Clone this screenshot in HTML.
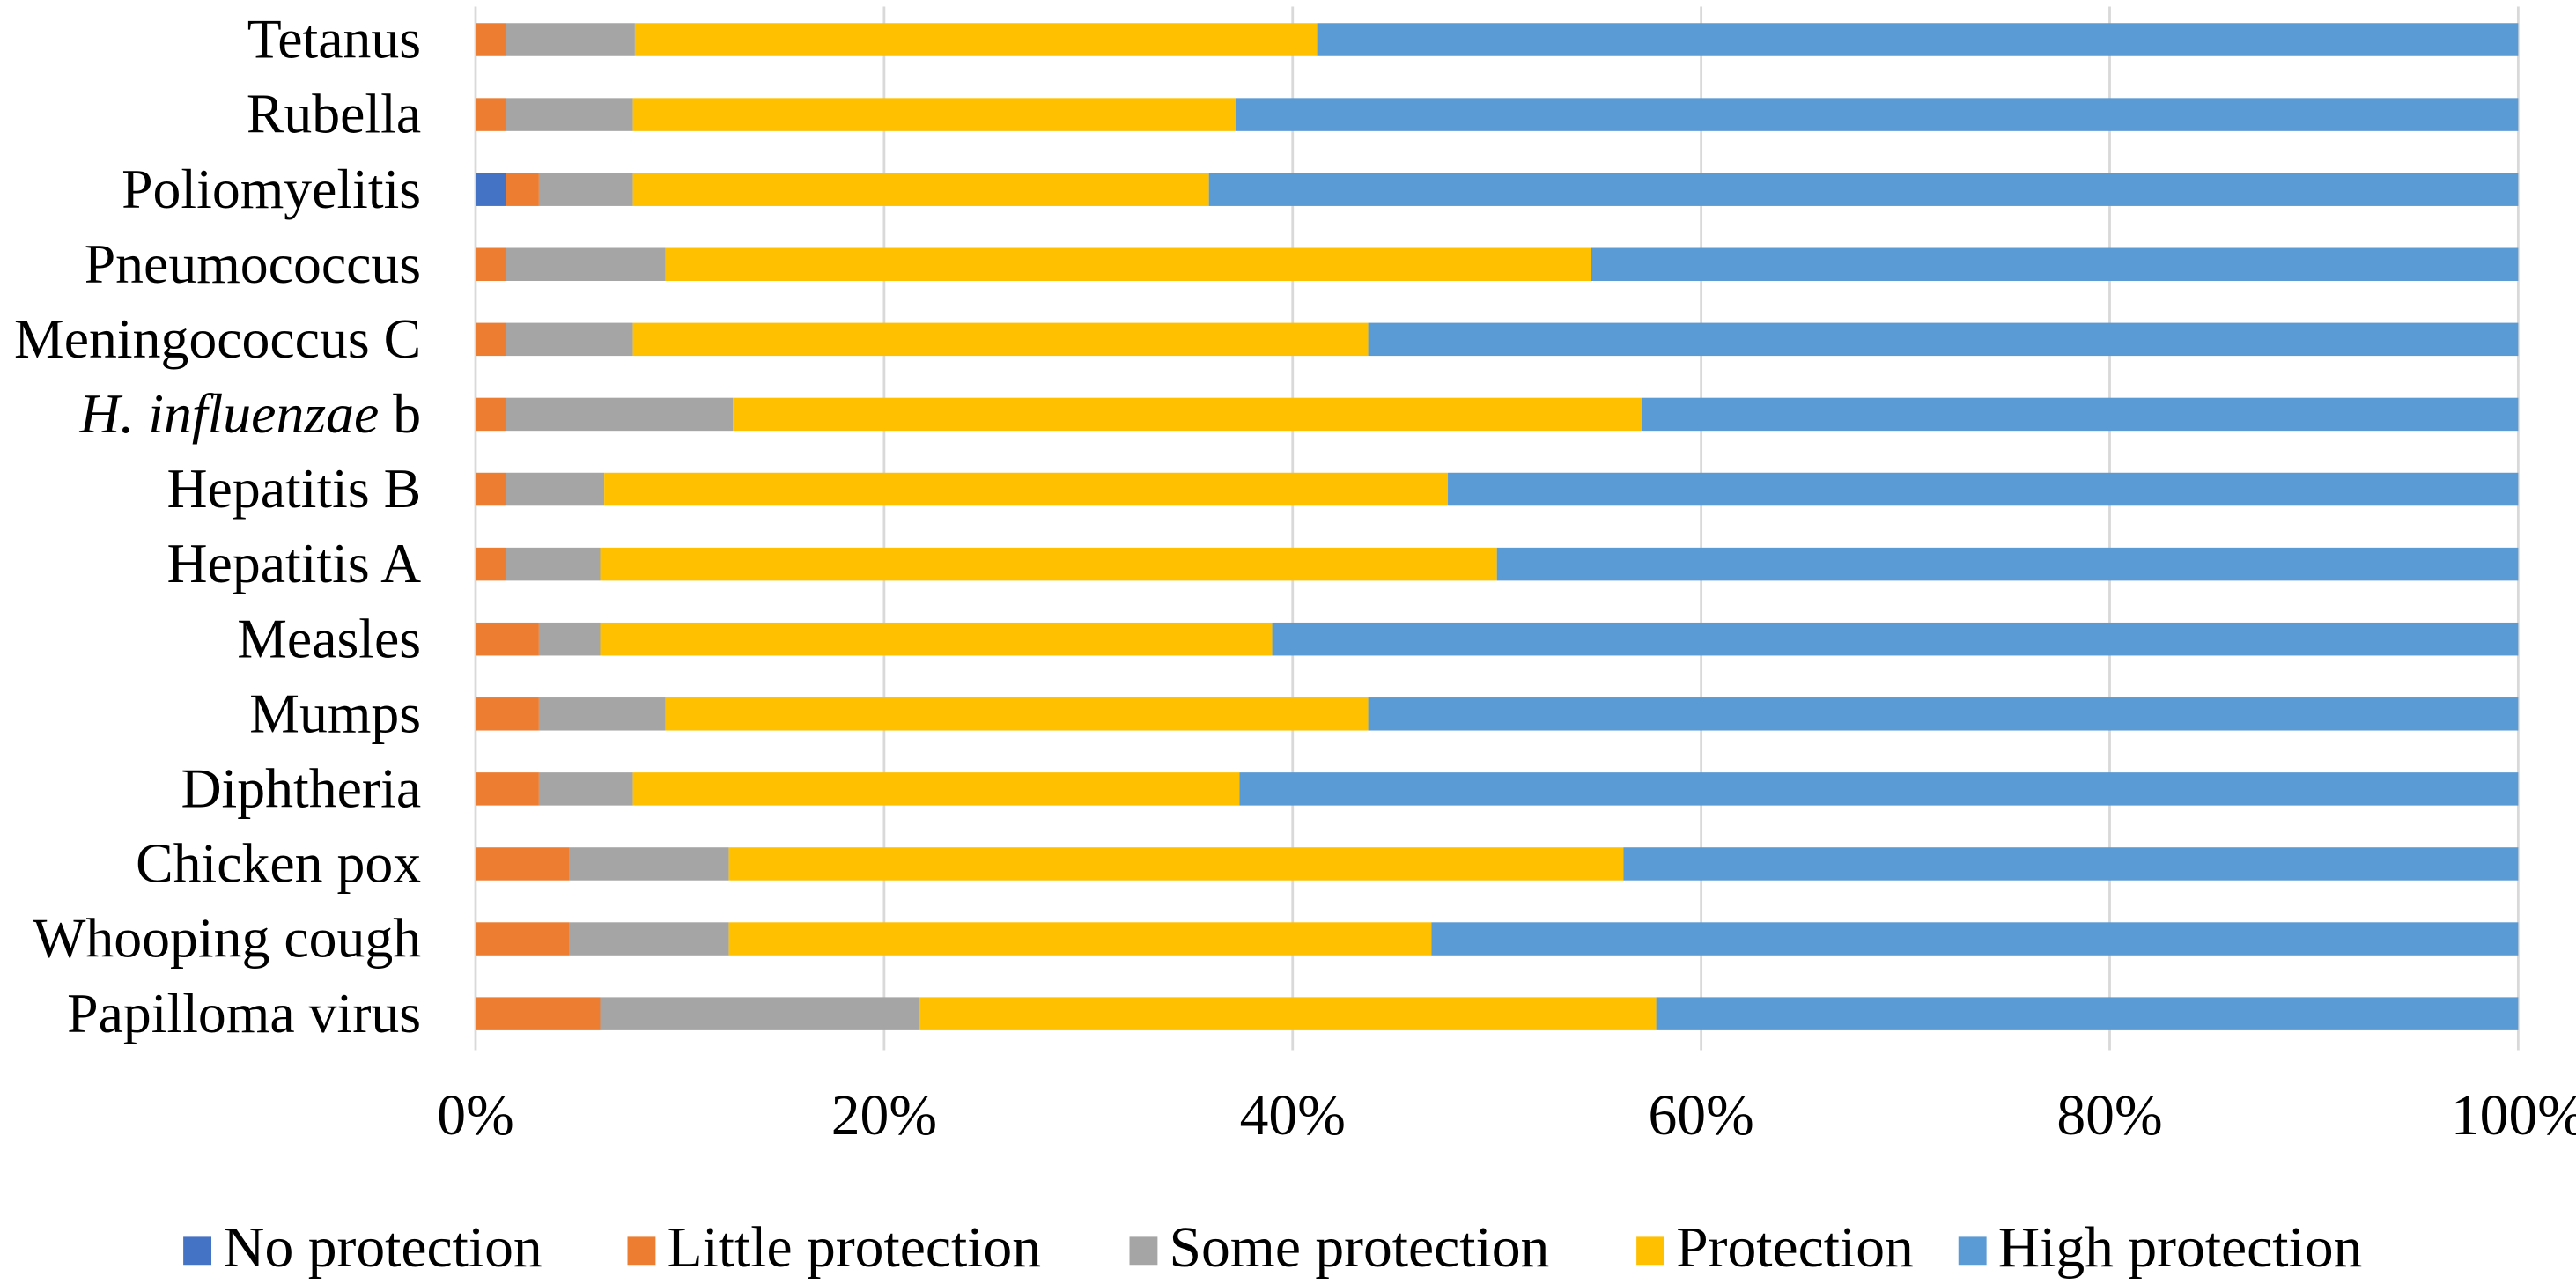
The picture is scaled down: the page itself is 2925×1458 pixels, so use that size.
<!DOCTYPE html>
<html><head><meta charset="utf-8"><style>
body{margin:0;background:#fff;overflow:hidden;}
svg{display:block;}
svg text{font-family:"Liberation Serif",serif;fill:#000;}
</style></head><body>
<svg id="c" width="2925" height="1458" viewBox="0 0 1560 777.6"></svg>
<script>
const categories=["Tetanus","Rubella","Poliomyelitis","Pneumococcus","Meningococcus C","H. influenzae b","Hepatitis B","Hepatitis A","Measles","Mumps","Diphtheria","Chicken pox","Whooping cough","Papilloma virus"];
const noProtection=[0,0,1.5,0,0,0,0,0,0,0,0,0,0,0];
const littleProtection=[1.5,1.5,1.6,1.5,1.5,1.5,1.5,1.5,3.1,3.1,3.1,4.6,4.6,6.1];
const someProtection=[6.3,6.2,4.6,7.8,6.2,11.1,4.8,4.6,3.0,6.2,4.6,7.8,7.8,15.6];
const protection=[33.4,29.5,28.2,45.3,36.0,44.5,41.3,43.9,32.9,34.4,29.7,43.8,34.4,36.1];
const highProtection=[58.8,62.8,64.1,45.4,56.3,42.9,52.4,50.0,61.0,56.3,62.6,43.8,53.2,42.2];
const ticks=["0%","20%","40%","60%","80%","100%"];
const seriesNames=["No protection","Little protection","Some protection","Protection","High protection"];
const colors=["#4472C4","#ED7D31","#A5A5A5","#FFC000","#5B9BD5"];
const series=[noProtection,littleProtection,someProtection,protection,highProtection];
const NS="http://www.w3.org/2000/svg";
const svg=document.getElementById('c');
const x0=288,x1=1525,yTop=24,step=45.38,bh=20;
const xs=v=>x0+(x1-x0)*v/100;
const yc=i=>yTop+i*step;
function mk(t,a){const e=document.createElementNS(NS,t);for(const k in a)e.setAttribute(k,a[k]);svg.appendChild(e);return e;}
ticks.forEach((t,i)=>{
  const x=xs(i*20);
  if(i>0){const g=mk('line',{x1:x,x2:x,y1:4,y2:636,stroke:'#d9d9d9','stroke-width':1.5});
  
  }
  const tx=mk('text',{x:x,y:687,'font-size':35,'text-anchor':'middle'});tx.textContent=t;
  
  
});
const ax=mk('line',{x1:x0,x2:x0,y1:4,y2:636,stroke:'#d9d9d9','stroke-width':1.5});


categories.forEach((c,i)=>{
  let acc=0;
  series.forEach((s,j)=>{
    const v=s[i];
    if(v>0){
      const r=mk('rect',{x:xs(acc),y:yc(i)-bh/2,width:xs(acc+v)-xs(acc),height:bh,fill:colors[j]});
      
      
    }
    acc+=v;
  });
  const t=mk('text',{x:255,y:yc(i)+11,'font-size':34,'text-anchor':'end'});
  if(c.startsWith('H. influenzae')){
    const a=document.createElementNS(NS,'tspan');a.setAttribute('font-style','italic');a.textContent='H. influenzae';t.appendChild(a);
    t.appendChild(document.createTextNode(' b'));
  } else t.textContent=c;
  
  
});
const lx=[111,380,684,991,1186];
seriesNames.forEach((n,i)=>{
  const g=document.createElementNS(NS,'g');svg.appendChild(g);
  
  
  const r=document.createElementNS(NS,'rect');
  r.setAttribute('x',lx[i]);r.setAttribute('y',749);r.setAttribute('width',17);r.setAttribute('height',17);r.setAttribute('fill',colors[i]);g.appendChild(r);
  const t=document.createElementNS(NS,'text');
  t.setAttribute('x',lx[i]+24);t.setAttribute('y',767);t.setAttribute('font-size',35);t.textContent=n;g.appendChild(t);
});
</script>
</body></html>
